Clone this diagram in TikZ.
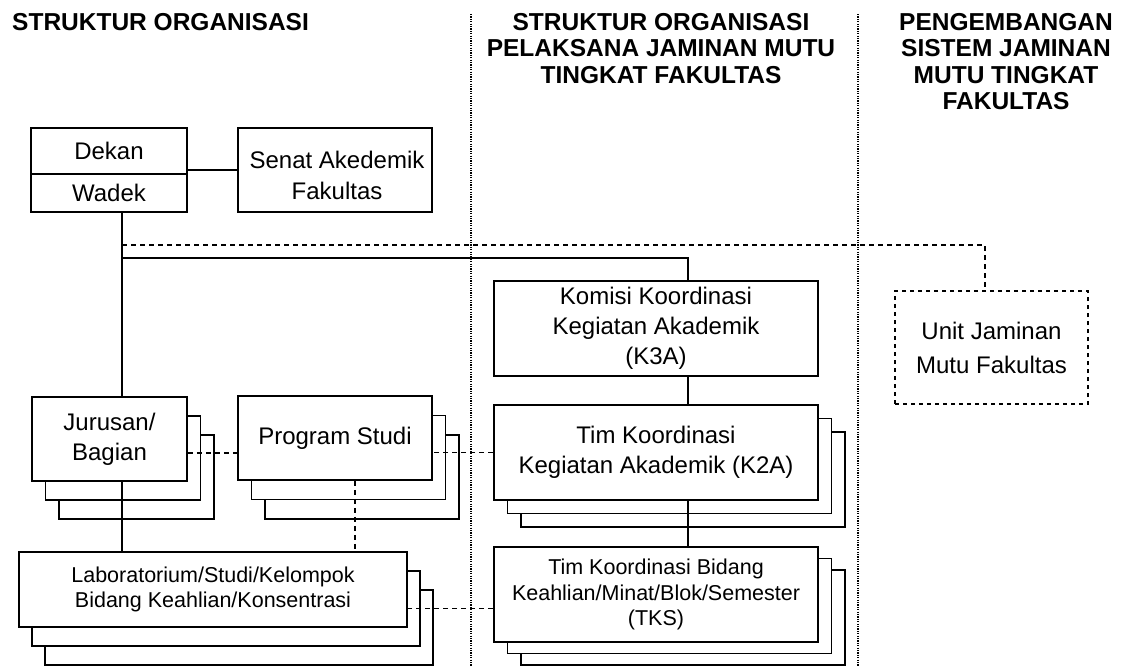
\documentclass[tikz,border=0pt]{standalone}
\usepackage{fontspec}
\setmainfont{Liberation Sans}
\begin{document}
\begin{tikzpicture}[x=1pt,y=-1pt,
  box/.style={draw, line width=1.8pt, fill=white, inner sep=0pt, align=center, font=\fontsize{24}{30}\selectfont},
  smallbox/.style={box, font=\fontsize{21.5}{25.5}\selectfont},
  layer/.style={draw, line width=1.8pt, fill=white, inner sep=0pt},
  conn/.style={line width=1.8pt},
  dconn/.style={line width=1.8pt, dash pattern=on 5pt off 4pt},
  sepline/.style={line width=1.3pt, dash pattern=on 1.2pt off 1.2pt},
  title/.style={font=\fontsize{24.5}{26.5}\selectfont\bfseries, align=center, inner sep=0pt, anchor=north},
  ]
\clip (0,0) rectangle (1129,666);
\fill[white] (0,0) rectangle (1129,666);

% separators
\draw[sepline] (471,14) -- (471,666);
\draw[sepline] (858,14) -- (858,666);

% titles
\node[title, anchor=north west, align=left] (t1) at (12,13) {STRUKTUR ORGANISASI};
\node[title] (t2) at (661,13) {STRUKTUR ORGANISASI\\PELAKSANA JAMINAN MUTU\\TINGKAT FAKULTAS};
\node[title] (t3) at (1006,13) {PENGEMBANGAN\\SISTEM JAMINAN\\MUTU TINGKAT\\FAKULTAS};

% top boxes
\node[box, minimum width=156pt, minimum height=46pt] (dekan) at (109,151) {Dekan};
\node[box, minimum width=156pt, minimum height=38pt] (wadek) at (109,193) {Wadek};
\node[box, minimum width=194pt, minimum height=84pt] (senat) at (335,170) {};
\node[align=center, inner sep=0pt, font=\fontsize{24}{31}\selectfont] (senattext) at (337,175) {Senat Akedemik\\Fakultas};

% Jurusan stack
\node[layer, minimum width=155pt, minimum height=84pt] (jur3) at (136.5,477) {};
\node[layer, minimum width=155pt, minimum height=84pt] (jur2) at (123,458) {};
\node[box, minimum width=155pt, minimum height=84pt] (jur) at (109.5,439) {Jurusan/\\Bagian};

% Program Studi stack
\node[layer, minimum width=194pt, minimum height=84pt] (prodi3) at (362,477) {};
\node[layer, minimum width=194pt, minimum height=84pt] (prodi2) at (348.5,457.5) {};
\node[box, minimum width=194pt, minimum height=84pt] (prodi) at (335,438) {Program Studi};

% Lab stack
\node[layer, minimum width=388pt, minimum height=75pt] (lab3) at (239,627.5) {};
\node[layer, minimum width=388pt, minimum height=75pt] (lab2) at (226,608.5) {};
\node[smallbox, minimum width=388pt, minimum height=75pt] (lab) at (213,589.5) {Laboratorium/Studi/Kelompok\\Bidang Keahlian/Konsentrasi};

% Komisi
\node[box, minimum width=324pt, minimum height=95pt] (komisi) at (656,328.5) {Komisi Koordinasi\\Kegiatan Akademik\\(K3A)};

% K2A stack
\node[layer, minimum width=324pt, minimum height=95pt] (k2a3) at (683,479.5) {};
\node[layer, minimum width=324pt, minimum height=95pt] (k2a2) at (669.5,466) {};
\node[box, minimum width=324pt, minimum height=95pt] (k2a) at (656,452.5) {Tim Koordinasi\\Kegiatan Akademik (K2A)};

% TKS stack
\node[layer, minimum width=324pt, minimum height=95pt] (tks3) at (683,617.5) {};
\node[layer, minimum width=324pt, minimum height=95pt] (tks2) at (669.5,606) {};
\node[smallbox, minimum width=324pt, minimum height=95pt] (tks) at (656,594.5) {Tim Koordinasi Bidang\\Keahlian/Minat/Blok/Semester\\(TKS)};

% Unit Jaminan Mutu
\node[box, dash pattern=on 4pt off 4pt, minimum width=193pt, minimum height=113pt, font=\fontsize{24}{34}\selectfont] (unit) at (991.5,347.5) {Unit Jaminan\\Mutu Fakultas};

% connectors
\draw[conn] (senat.west) -- (senat.west -| dekan.east);
\coordinate (sp) at ([xshift=13pt]wadek.south);
\draw[conn] (sp) -- (sp |- jur.north);
\coordinate (solidjoin) at (sp |- 0,258);
\coordinate (komtop) at ([xshift=32pt]komisi.north);
\draw[conn] (solidjoin) -- (solidjoin -| komtop) -- (komtop);
\coordinate (dashjoin) at (sp |- 0,245);
\coordinate (unittop) at ([xshift=-6.5pt]unit.north);
\draw[dconn] (dashjoin) -- (dashjoin -| unittop) -- (unittop);
\draw[conn] ([xshift=32pt]komisi.south) -- ([xshift=32pt]k2a.north);
\draw[conn] ([xshift=32pt]k2a.south) -- ([xshift=32pt]tks.north);
\draw[conn] ([xshift=12.5pt]jur.south) -- ([xshift=12.5pt]jur.south |- lab.north);
\draw[dconn] ([xshift=20pt]prodi.south) -- ([xshift=20pt]prodi.south |- lab.north);
\draw[dconn] ([yshift=-14pt]jur.east) -- ([yshift=-14pt]jur.east -| prodi.west);
\draw[dconn] (k2a.west) -- (k2a.west -| prodi.east);
\draw[dconn] ([yshift=-14pt]tks.west) -- ([yshift=-14pt]tks.west -| lab.east);
\end{tikzpicture}
\end{document}
